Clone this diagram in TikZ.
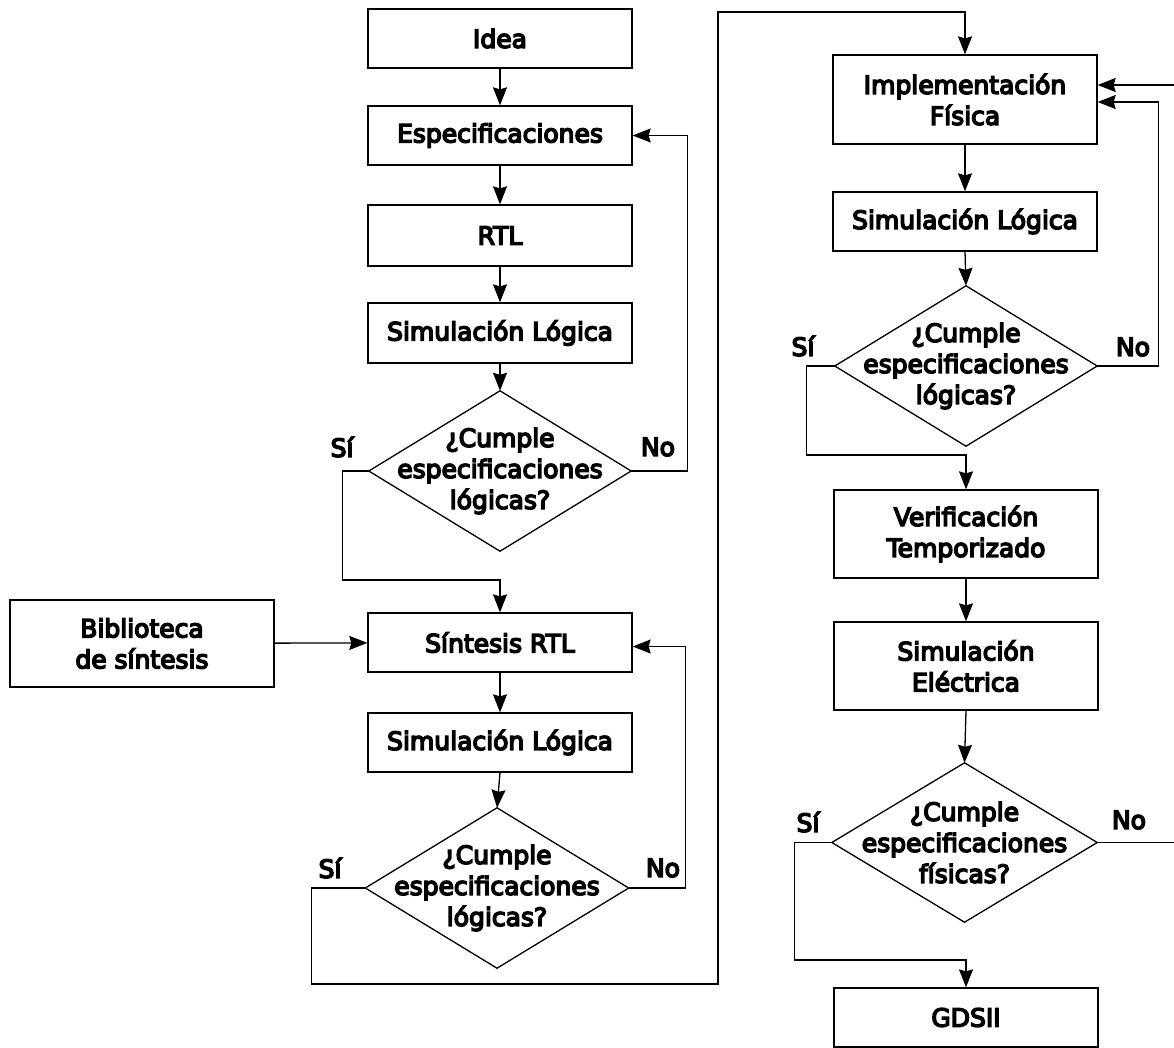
\documentclass[tikz,border=0pt]{standalone}
\usepackage{fontspec}
\setmainfont{DejaVu Sans}
\newfontfamily\dfont{DejaVu Sans}[FakeBold=6]
\usetikzlibrary{arrows.meta,calc}
\begin{document}
\begin{tikzpicture}[x=1pt,y=-1pt,
  every node/.style={font=\dfont\fontsize{25}{31}\selectfont},
  box/.style={draw,line width=1.3pt,minimum width=264,minimum height=59,inner sep=0pt,align=center},
  dia/.style={minimum width=262,minimum height=160,inner sep=0pt,align=center},
  lbl/.style={inner sep=0pt},
  conn/.style={line width=1.3pt},
  arr/.style={conn,-{Stealth[length=18pt,width=14pt,inset=2pt]}}]
\useasboundingbox (0,0) rectangle (1174,1047);
% left column
\node[box] (idea) at (500,38.5) {Idea};
\node[box] (espec) at (500,135.5) {Especificaciones};
\node[box,minimum height=61] (rtl) at (500,235.5) {RTL};
\node[box,minimum height=60] (sim1) at (500,333) {Simulación Lógica};
\node[dia] (d1) at (500,471) {¿Cumple\\especificaciones\\lógicas?};
\node[box] (sint) at (500,642.5) {Síntesis RTL};
\node[box,minimum height=87] (bib) at (142,643.5) {Biblioteca\\de síntesis};
\node[box] (sim2) at (500,742.5) {Simulación Lógica};
\node[dia,minimum width=263] (d2) at (497,888) {¿Cumple\\especificaciones\\lógicas?};
% right column
\node[box,minimum height=89] (impl) at (965,99.5) {Implementación\\Física};
\node[box] (sim3) at (965,221.5) {Simulación Lógica};
\node[dia] (d3) at (966,366) {¿Cumple\\especificaciones\\lógicas?};
\node[box,minimum height=88] (verif) at (966,534) {Verificación\\Temporizado};
\node[box,minimum height=88] (sime) at (966,666) {Simulación\\Eléctrica};
\node[dia,minimum width=265,minimum height=159] (d4) at (964.5,842.5) {¿Cumple\\especificaciones\\físicas?};
\node[box] (gds) at (966,1017.5) {GDSII};
\foreach \d in {d1,d2,d3,d4}
  \draw[conn] (\d.north) -- (\d.east) -- (\d.south) -- (\d.west) -- cycle;
% labels
\node[lbl] (s1) at (342,447) {Sí};
\node[lbl] (n1) at (658,447) {No};
\node[lbl] (s2) at (330,868) {Sí};
\node[lbl] (n2) at (663,868) {No};
\node[lbl] (s3) at (803,346) {Sí};
\node[lbl] (n3) at (1133,347) {No};
\node[lbl] (s4) at (808,822) {Sí};
\node[lbl] (n4) at (1129,820) {No};
% edge coordinates
\coordinate (inR) at (1174,85);
\coordinate (outR) at (1174,842.5);
% connectors left
\draw[arr] (idea) -- (espec);
\draw[arr] (espec) -- (rtl);
\draw[arr] (rtl) -- (sim1);
\draw[arr] (sim1) -- (d1.north);
\draw[arr] (d1.east) -- ++(56,0) |- (espec.east);
\draw[arr] (d1.west) -- ++(-26,0) -- ++(0,109) -| (sint.north);
\draw[arr] (bib) -- (sint);
\draw[arr] (sint) -- (sim2);
\draw[arr] (sim2.south) -- (d2.north);
\draw[arr] (d2.east) -- ++(57,0) |- ([yshift=-4pt]sint.east);
\draw[arr] (d2.west) -- ++(-54,0) -- ++(0,96) -- (718,984) -- (718,12) -| (impl.north);
% connectors right
\draw[arr] (inR) -- (impl.east |- inR);
\draw[arr] (impl) -- (sim3);
\draw[arr] (sim3.south) -- (d3.north);
\draw[arr] (d3.east) -- ++(61,0) |- ([yshift=-2.5pt]impl.east);
\draw[arr] (d3.west) -- ++(-28,0) -- ++(0,89) -| (verif.north);
\draw[arr] (verif) -- (sime);
\draw[arr] (sime.south) -- (d4.north);
\draw[conn] (d4.east) -- (outR);
\draw[arr] (d4.west) -- ++(-37,0) -- ++(0,117.5) -| (gds.north);
\end{tikzpicture}
\end{document}
